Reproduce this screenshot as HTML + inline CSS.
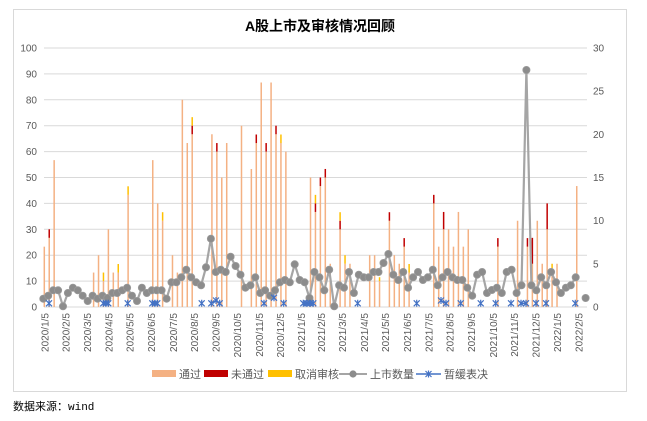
<!DOCTYPE html>
<html><head><meta charset="utf-8">
<style>
body{margin:0;background:#fff;width:647px;height:421px;overflow:hidden;font-family:"Liberation Sans","Noto Sans CJK SC",sans-serif;}
svg{position:absolute;left:0;top:0}
</style></head><body>
<svg id="s" width="647" height="421" xmlns="http://www.w3.org/2000/svg"></svg>
<script>
var s=document.getElementById('s');var h='';
h+='<rect x="13.5" y="9.5" width="613" height="382" fill="#fff" stroke="#d9d9d9"/>';
h+='<text x="320" y="31" text-anchor="middle" font-size="14" font-weight="bold" fill="#000" font-family="Liberation Sans,Noto Sans CJK SC,sans-serif">A股上市及审核情况回顾</text>';
function Y(v){return 307-2.59*v;}
function X(i){return 43.3+i*4.93;}
for(var k=0;k<=10;k++){var y=Y(k*10);h+='<line x1="44" x2="587" y1="'+y+'" y2="'+y+'" stroke="#d9d9d9" stroke-width="1"/>';
h+='<text x="37" y="'+(y+3.5)+'" text-anchor="end" font-size="10" fill="#595959">'+(k*10)+'</text>';}
for(var k=0;k<=6;k++){var y=307-k*5*8.633;h+='<text x="593" y="'+(y+3.5)+'" font-size="10" fill="#595959">'+(k*5)+'</text>';}
var bars=[[0,23.3,0,0],[1,26.7,3.3,0],[2,56.7,0,0],[10,13.3,0,0],[11,20,0,0],[12,10,0,3.3],[13,30,0,0],[14,13.3,0,0],[15,13.3,0,3.3],[17,43.3,0,3.3],[22,56.7,0,0],[23,40,0,0],[24,33.3,0,3.3],[26,20,0,0],[27,13.3,0,0],[28,80,0,0],[29,63.3,0,0],[30,66.7,3.3,3.3],[34,66.7,0,0],[35,60,3.3,0],[36,50,0,0],[37,63.3,0,0],[40,70,0,0],[42,53.3,0,0],[43,63.3,3.3,0],[44,86.7,0,0],[45,60,3.3,0],[46,86.7,0,0],[47,66.7,3.3,0],[48,63.3,0,3.3],[49,60,0,0],[54,50,0,0],[55,36.7,3.3,3.3],[56,46.7,3.3,0],[57,50,3.3,0],[58,16.7,0,0],[60,30,3.3,3.3],[61,16.7,0,3.3],[62,16.7,0,0],[66,20,0,0],[67,20,0,0],[68,10,0,1.5],[70,33.3,3.3,0],[71,20,0,0],[72,16.7,0,0],[73,23.3,3.3,0],[74,13.3,0,3.3],[79,40,3.3,0],[80,23.3,0,0],[81,30,6.7,0],[82,30,0,0],[83,23.3,0,0],[84,36.7,0,0],[85,23.3,0,0],[86,30,0,0],[92,23.3,3.3,0],[96,33.3,0,0],[98,23.3,3.3,0],[99,16.7,10,0],[100,33.3,0,0],[101,16.7,0,0],[102,30,10,0],[103,15,0,1.7],[104,16.7,0,0],[108,46.7,0,0]];
bars.forEach(function(b){var x=X(b[0])+1;var y0=307,y1=Y(b[1]);
h+='<line x1="'+x+'" x2="'+x+'" y1="'+y0+'" y2="'+y1+'" stroke="#f4b183" stroke-width="1.5"/>';
if(b[2]){var y2=Y(b[1]+b[2]);h+='<line x1="'+x+'" x2="'+x+'" y1="'+y1+'" y2="'+y2+'" stroke="#c00000" stroke-width="1.5"/>';y1=y2;}
if(b[3]){var y3=Y(b[1]+b[2]+b[3]);h+='<line x1="'+x+'" x2="'+x+'" y1="'+y1+'" y2="'+y3+'" stroke="#ffc000" stroke-width="1.5"/>';}
});
var ly=[298.7,295.7,290.3,290.3,306.3,293,287.7,290.3,295.7,301,295.7,298.7,295.7,298,293,293,290.3,287.7,295.7,301,287.7,293,290.3,290.3,290.3,298.7,282.3,282.3,277.3,269.7,277.3,282.3,285.3,267.3,238.7,272,269.7,272,256.7,266,274.7,287.7,285.3,277.3,293,290.3,295.7,290.3,282.3,280,282.3,264.3,280,282.3,298,272,277.3,290.3,269.7,306.3,285.3,287.7,272,293,274.7,277.3,277.3,272,272,263,254,274.7,280,272,287.7,277.3,272,280,277.3,269.7,285.3,277.3,272,277.3,280,280,287.7,295.7,274.7,272,293,290,287.7,293,272,269.7,293,285.3,70,285.3,290.3,277.3,285.3,272,282.3,293,287.7,285.3,277.3,null,298];
var p='';for(var i=0;i<ly.length;i++){if(ly[i]===null){continue;}if(i==110)break;p+=(p?'L':'M')+X(i).toFixed(1)+' '+ly[i];}
h+='<path d="'+p+'" fill="none" stroke="#a5a5a5" stroke-width="2.2" stroke-linejoin="round"/>';
for(var i=0;i<ly.length;i++){if(ly[i]===null)continue;h+='<circle cx="'+X(i).toFixed(1)+'" cy="'+ly[i]+'" r="3.6" fill="#8c8c8c" stroke="#9a9a9a" stroke-width="0.8"/>';}
var bx=[[49],[103.3,106,108.3],[127.7],[152.3,155,157.3],[201.7],[211.3,216,219.7],[264],[274],[283.7],[303.3,306.7,310,313.3],[357.7],[416.7],[441,446],[460.7],[480.7],[495.7],[511],[521,526],[536],[546],[575.3]];
function star(x,y){return '<path d="M'+(x-3)+' '+(y-3)+'L'+(x+3)+' '+(y+3)+'M'+(x-3)+' '+(y+3)+'L'+(x+3)+' '+(y-3)+'M'+x+' '+(y-3.5)+'L'+x+' '+(y+3.5)+'" stroke="#4472c4" stroke-width="1.2"/>';}
bx.forEach(function(g){var pts=g.map(function(x){var y=303.3;if(x==274)y=297.7;if(x==441||x==216)y=300.5;return [x,y];});
if(pts.length>1){var d='';pts.forEach(function(q,j){d+=(j?'L':'M')+q[0]+' '+q[1];});h+='<path d="'+d+'" stroke="#4472c4" stroke-width="1.5" fill="none"/>';}
pts.forEach(function(q){h+=star(q[0],q[1]);});});
var labs=['2020/1/5','2020/2/5','2020/3/5','2020/4/5','2020/5/5','2020/6/5','2020/7/5','2020/8/5','2020/9/5','2020/10/5','2020/11/5','2020/12/5','2021/1/5','2021/2/5','2021/3/5','2021/4/5','2021/5/5','2021/6/5','2021/7/5','2021/8/5','2021/9/5','2021/10/5','2021/11/5','2021/12/5','2022/1/5','2022/2/5'];
var lx=[45,66,87.3,109,130,151.7,173.3,194.3,216,237.7,259.3,280.7,301.7,321.5,342.3,364.3,385.7,407.3,429,450,471.7,493.3,514.7,536,557.7,579];
labs.forEach(function(t,i){h+='<text transform="translate('+(lx[i]+3.5)+',313) rotate(-90)" text-anchor="end" font-size="10" fill="#595959">'+t+'</text>';});
var LY=374;
h+='<rect x="152" y="'+(LY-4)+'" width="24" height="7" fill="#f4b183"/><text x="179" y="'+(LY+4)+'" font-size="11" fill="#595959">通过</text>';
h+='<rect x="204" y="'+(LY-4)+'" width="24" height="7" fill="#c00000"/><text x="231" y="'+(LY+4)+'" font-size="11" fill="#595959">未通过</text>';
h+='<rect x="268" y="'+(LY-4)+'" width="24" height="7" fill="#ffc000"/><text x="295" y="'+(LY+4)+'" font-size="11" fill="#595959">取消审核</text>';
h+='<line x1="339" x2="367" y1="'+LY+'" y2="'+LY+'" stroke="#a5a5a5" stroke-width="2"/><circle cx="353" cy="'+LY+'" r="3.6" fill="#8c8c8c"/><text x="370" y="'+(LY+4)+'" font-size="11" fill="#595959">上市数量</text>';
h+='<line x1="416" x2="441" y1="'+LY+'" y2="'+LY+'" stroke="#4472c4" stroke-width="1.5"/>'+star(428.5,LY)+'<text x="444" y="'+(LY+4)+'" font-size="11" fill="#595959">暂缓表决</text>';
h+='<text x="13" y="410" font-size="11" fill="#000">数据来源：<tspan font-family="Liberation Mono,monospace">wind</tspan></text>';
s.innerHTML=h;
</script>
</body></html>
